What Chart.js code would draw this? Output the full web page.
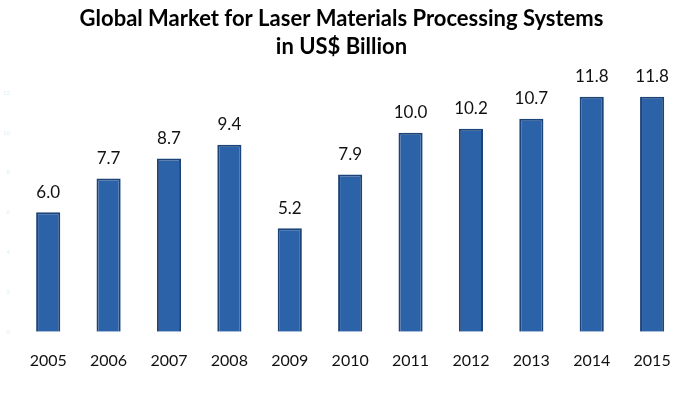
<!DOCTYPE html>
<html>
<head>
<meta charset="utf-8">
<script src="https://cdn.jsdelivr.net/npm/chart.js@4/dist/chart.umd.min.js"></script>
<style>
  html, body { margin: 0; padding: 0; background: #fff; }
  #wrap { width: 690px; height: 395px; }
</style>
</head>
<body>
<div id="wrap"><canvas id="marketChart"></canvas></div>
<script>
const years = ["2005", "2006", "2007", "2008", "2009", "2010", "2011", "2012", "2013", "2014", "2015"];
const marketValues = [6.0, 7.7, 8.7, 9.4, 5.2, 7.9, 10.0, 10.2, 10.7, 11.8, 11.8];
const titleLines = ["Global Market for Laser Materials Processing Systems", "in US$ Billion"];
const yTicks = [0, 2, 4, 6, 8, 10, 12];

// draw the value above every bar
const valueLabels = {
  id: "valueLabels",
  afterDatasetsDraw(chart) {
    const ctx = chart.ctx;
    const meta = chart.getDatasetMeta(0);
    ctx.save();
    ctx.font = "17px Lato";
    ctx.fillStyle = "#111";
    ctx.textAlign = "center";
    ctx.textBaseline = "middle";
    meta.data.forEach((bar, i) => {
      ctx.fillText(marketValues[i].toFixed(1), bar.x, bar.y - 20);
    });
    ctx.restore();
  }
};

const ctx = document.getElementById("marketChart").getContext("2d");
new Chart(ctx, {
  type: "bar",
  data: {
    labels: years,
    datasets: [{
      data: marketValues,
      backgroundColor: "#2C62A7",
      borderColor: "#1D4478",
      borderWidth: { top: 2, left: 2, right: 2, bottom: 0 },
      borderSkipped: false,
      barPercentage: 0.8,
      categoryPercentage: 0.5
    }]
  },
  options: {
    responsive: true,
    maintainAspectRatio: false,
    animation: false,
    layout: { padding: { left: 0, right: 7, top: 0, bottom: 6 } },
    plugins: {
      legend: { display: false },
      tooltip: { enabled: false },
      title: {
        display: true,
        text: titleLines,
        color: "#000",
        font: { family: "Lato", size: 22, weight: "bold", lineHeight: 1.27 },
        padding: { top: 5, bottom: 32 }
      }
    },
    scales: {
      x: {
        grid: { display: false, drawTicks: false },
        border: { display: false },
        ticks: { color: "#111", font: { family: "Lato", size: 16 }, padding: 19 }
      },
      y: {
        min: 0,
        max: 12,
        afterBuildTicks: scale => { scale.ticks = yTicks.map(v => ({ value: v })); },
        afterFit: scale => { scale.width = 18; },
        grid: { display: false, drawTicks: false },
        border: { display: false },
        ticks: { color: "#d8f0f4", font: { family: "Lato", size: 6 }, padding: 8 }
      }
    }
  },
  plugins: [valueLabels]
});
</script>
</body>
</html>
